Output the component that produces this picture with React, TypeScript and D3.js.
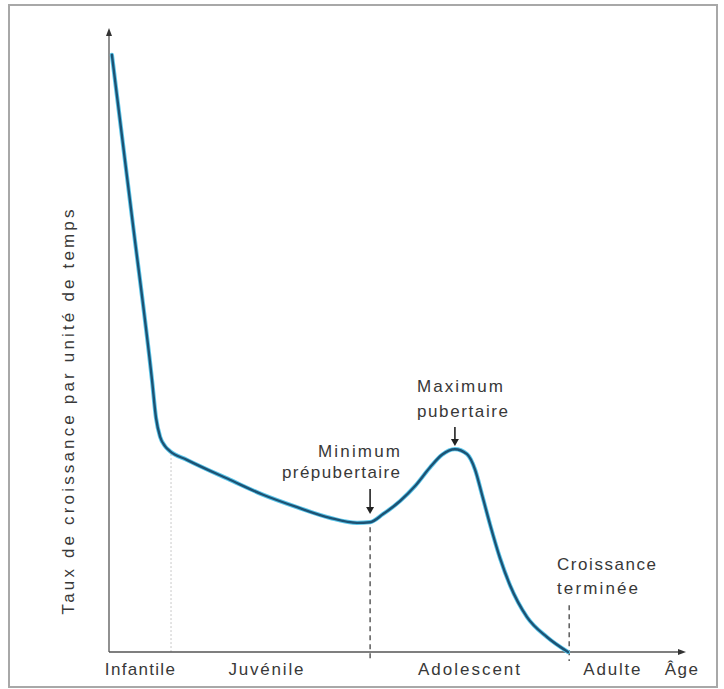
import React from 'react';
import * as d3 from 'd3';

// Curve data (age in arbitrary years, growth rate in arbitrary units)
const ageValues = [0.10, 0.80, 1.49, 1.63, 1.77, 1.94, 2.11, 2.70, 4.19, 5.34, 6.52, 7.66, 8.60, 9.05, 9.50, 10.09, 10.61, 11.13, 11.54, 11.99, 12.41, 12.69, 12.93, 13.21, 13.55, 13.90, 14.49, 15.18, 15.91];
const growthRates = [95.7, 69.6, 43.6, 37.5, 34.5, 33.0, 32.2, 30.8, 27.6, 25.2, 23.2, 21.5, 20.7, 20.8, 22.1, 24.2, 26.6, 29.6, 31.6, 32.5, 31.7, 29.2, 25.2, 20.4, 15.1, 10.7, 5.6, 2.4, 0];

// Phase boundaries and labels
const phaseBoundaries = [2.15, 9.05, 15.95];
const boundaryTops = [32.2, 20.8, 8.3];
const phaseLabels = ['Infantile', 'Juvénile', 'Adolescent', 'Adulte'];
const phaseLabelCenters = [1.07, 5.44, 12.48, 17.43];
const phaseLabelLengths = [70, 75, 102, 57];

const W = 724;
const H = 689;

export default function App() {
  const x = d3.scaleLinear().domain([0, 20]).range([109, 686]);
  const y = d3.scaleLinear().domain([0, 100]).range([652, 28]);

  const pts: [number, number][] = ageValues.map((a, i) => [a, growthRates[i]]);
  const line = d3
    .line<[number, number]>()
    .x((d) => x(d[0]))
    .y((d) => y(d[1]))
    .curve(d3.curveMonotoneX);
  const path = line(pts) || '';

  const font = '"Liberation Sans", Arial, Helvetica, sans-serif';
  const textColor = '#383838';
  const axisColor = '#555';
  const fs = 17;

  const x0 = x(0);
  const y0 = y(0);
  const xEnd = x(20);
  const yTop = y(100);

  const minX = x(9.05);
  const maxX = x(11.99);

  const downArrow = (cx: number, top: number, bottom: number, key: string) => (
    <g key={key}>
      <line x1={cx} x2={cx} y1={top} y2={bottom - 5} stroke="#222" strokeWidth={1.6} />
      <polygon points={`${cx - 4},${bottom - 7} ${cx + 4},${bottom - 7} ${cx},${bottom}`} fill="#222" />
    </g>
  );

  return (
    <svg
      width={W}
      height={H}
      style={{ position: 'absolute', left: 0, top: 0, background: '#fff' }}
      fontFamily={font}
    >
      {/* frame */}
      <rect x={9} y={5} width={708} height={682} fill="#fff" stroke="#a8a8a8" strokeWidth={2} />

      {/* boundary lines */}
      <line
        x1={x(phaseBoundaries[0])}
        x2={x(phaseBoundaries[0])}
        y1={y(boundaryTops[0]) + 3}
        y2={y0}
        stroke="#c8c8c8"
        strokeWidth={1}
        strokeDasharray="2,2"
      />
      {[1, 2].map((i) => (
        <line
          key={i}
          x1={x(phaseBoundaries[i])}
          x2={x(phaseBoundaries[i])}
          y1={y(boundaryTops[i]) + 5}
          y2={y0 + 9}
          stroke="#333"
          strokeWidth={1.2}
          strokeDasharray="5,4"
        />
      ))}

      {/* axes */}
      <line x1={x0} x2={x0} y1={y0} y2={yTop + 6} stroke={axisColor} strokeWidth={1.3} />
      <polygon points={`${x0 - 3},${yTop + 8} ${x0 + 3},${yTop + 8} ${x0},${yTop}`} fill="#333" />
      <line x1={x0} x2={xEnd - 6} y1={y0} y2={y0} stroke={axisColor} strokeWidth={1.3} />
      <polygon points={`${xEnd - 8},${y0 - 3} ${xEnd - 8},${y0 + 3} ${xEnd},${y0}`} fill="#333" />

      {/* curve */}
      <path d={path} fill="none" stroke="#5cc6ea" strokeWidth={4.2} strokeLinejoin="round" strokeLinecap="round" />
      <path d={path} fill="none" stroke="#1c5274" strokeWidth={2.4} strokeLinejoin="round" strokeLinecap="round" />

      {/* annotations */}
      {downArrow(minX, 489, 514, 'minA')}
      {downArrow(maxX, 427, 446, 'maxA')}

      <text x={400} y={457} fontSize={fs} fill={textColor} textAnchor="end" textLength={82}>
        Minimum
      </text>
      <text x={400} y={478} fontSize={fs} fill={textColor} textAnchor="end" textLength={118}>
        prépubertaire
      </text>
      <text x={417} y={392} fontSize={fs} fill={textColor} textLength={86}>
        Maximum
      </text>
      <text x={417} y={417} fontSize={fs} fill={textColor} textLength={91}>
        pubertaire
      </text>
      <text x={557} y={570} fontSize={fs} fill={textColor} textLength={99}>
        Croissance
      </text>
      <text x={557} y={594} fontSize={fs} fill={textColor} textLength={81}>
        terminée
      </text>

      {/* phase labels */}
      {phaseLabels.map((lab, i) => (
        <text
          key={lab}
          x={x(phaseLabelCenters[i])}
          y={675}
          fontSize={fs}
          fill={textColor}
          textAnchor="middle"
          textLength={phaseLabelLengths[i]}
        >
          {lab}
        </text>
      ))}
      <text x={682} y={675} fontSize={fs} fill={textColor} textAnchor="middle" letterSpacing={1.5}>
        Âge
      </text>

      {/* y axis label */}
      <text
        transform={`translate(74, 412) rotate(-90)`}
        fontSize={fs}
        fill={textColor}
        textAnchor="middle"
        textLength={405}
      >
        Taux de croissance par unité de temps
      </text>
    </svg>
  );
}
